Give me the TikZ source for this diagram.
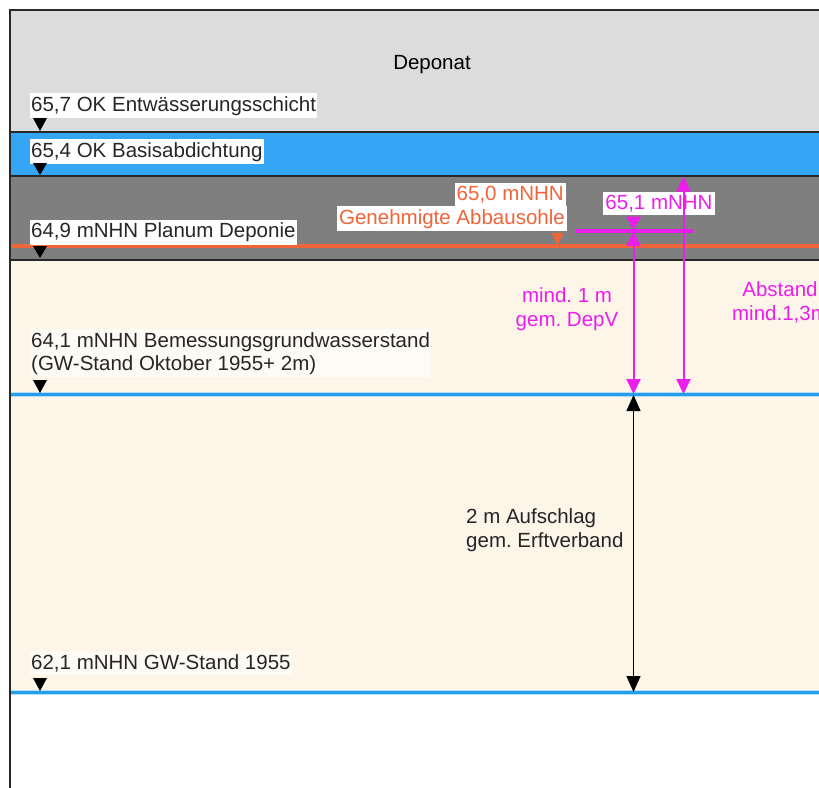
\documentclass[tikz,border=0pt]{standalone}
\usepackage{fontspec}
\setmainfont{Liberation Sans}
\usetikzlibrary{arrows.meta}
\frenchspacing
\definecolor{deponat}{RGB}{220,220,220}
\definecolor{abdicht}{RGB}{52,166,245}
\definecolor{planum}{RGB}{127,127,127}
\definecolor{boden}{RGB}{253,245,231}
\definecolor{orng}{RGB}{240,100,58}
\definecolor{mag}{RGB}{236,30,236}
\definecolor{wasser}{RGB}{40,158,234}
\definecolor{frame}{RGB}{40,40,40}
\tikzset{
  lbl/.style={anchor=base west, fill=white, inner xsep=1pt, inner ysep=3pt, font=\fontsize{20.5}{23}\selectfont, text=black!85},
  txt/.style={font=\fontsize{20.5}{23.5}\selectfont, inner sep=0pt},
  tri/.style={fill=black},
  sep/.style={draw=frame, line width=1.3pt},
  wline/.style={draw=wasser, line width=3pt},
  magarrow/.style={draw=mag, line width=2pt, {Triangle[width=14pt,length=15pt]}-{Triangle[width=14pt,length=15pt]}},
  blkarrow/.style={draw=black, line width=1.4pt, {Triangle[width=14pt,length=16pt]}-{Triangle[width=14pt,length=16pt]}}
}
\begin{document}
\begin{tikzpicture}[x=1pt,y=-1pt]
\useasboundingbox (0,0) rectangle (819,787);
\clip (0,0) rectangle (819,787);
% layers
\fill[deponat] (10,10) rectangle (830,132);
\fill[abdicht] (10,132) rectangle (830,176);
\fill[planum] (10,176) rectangle (830,260);
\fill[boden] (10,260) rectangle (830,692);
\fill[orng] (10,244) rectangle (830,248);
\draw[sep] (10,132) -- (830,132);
\draw[sep] (10,176) -- (830,176);
\draw[sep] (10,260) -- (830,260);
\draw[wasser!35, line width=5pt] (10,394) -- (830,394);
\draw[wline] (10,394) -- (830,394);
\draw[wasser!35, line width=5pt] (10,692) -- (830,692);
\draw[wline] (10,692) -- (830,692);
% frame
\draw[frame, line width=1.8pt] (830,10) -- (10,10) -- (10,800);

% level labels
\node[txt, anchor=base] (dep) at (432,69.5) {Deponat};
\node[lbl] (l1) at (30,111) {65,7 OK Entwässerungsschicht};
\node[lbl] (l2) at (30,157) {65,4 OK Basisabdichtung};
\node[lbl] (l3) at (30,237.5) {64,9 mNHN Planum Deponie};
\node[lbl, fill=white!60!boden, align=left] (l4) at (30,370) {64,1 mNHN Bemessungsgrundwasserstand\\(GW-Stand Oktober 1955+ 2m)};
\node[lbl, fill=white!60!boden] (l5) at (30,669) {62,1 mNHN GW-Stand 1955};
% level triangles
\fill[tri] (33,118) -- (47,118) -- (40,131) -- cycle;
\fill[tri] (33,163) -- (47,163) -- (40,175) -- cycle;
\fill[tri] (33,246) -- (47,246) -- (40,258) -- cycle;
\fill[tri] (33,380) -- (47,380) -- (40,393) -- cycle;
\fill[tri] (33,678) -- (47,678) -- (40,691) -- cycle;

% orange label
\node[lbl, anchor=base east, text=orng, inner xsep=2pt] (o1) at (566,200) {65,0 mNHN};
\node[lbl, anchor=base east, text=orng, inner xsep=2pt] (o2) at (567,224) {Genehmigte Abbausohle};
\fill[orng] (551.5,233) -- (563.5,233) -- (557.5,245) -- cycle;

% magenta
\node[lbl, anchor=base, text=mag, inner xsep=2pt] (m1) at (659,209) {65,1 mNHN};
\coordinate (hl1) at (576,230.7);
\coordinate (hl2) at (693,230.7);
\fill[mag] (576,229) rectangle (693,232.5);
\fill[mag] (626,216.5) -- (641,216.5) -- (633.5,230) -- cycle;
\coordinate (a1t) at (633.5,231);
\coordinate (a1b) at (633.5,394);
\coordinate (a2t) at (683.5,176.5);
\coordinate (a2b) at (683.5,394);
\draw[magarrow] (a1t) -- (a1b);
\draw[magarrow] (a2t) -- (a2b);
\node[txt, text=mag, align=center, anchor=base] (m2) at (567,326) {mind. 1 m\\gem. DepV};
\node[txt, text=mag, align=center, anchor=base] (m3) at (780,320) {Abstand\\mind.1,3m};

% black arrow
\coordinate (b1t) at (633.5,395);
\coordinate (b1b) at (633.5,692);
\draw[blkarrow] (b1t) -- (b1b);
\node[txt, align=left, anchor=base west, text=black!85] (b2) at (466,547) {2 m Aufschlag\\gem. Erftverband};
\end{tikzpicture}
\end{document}
